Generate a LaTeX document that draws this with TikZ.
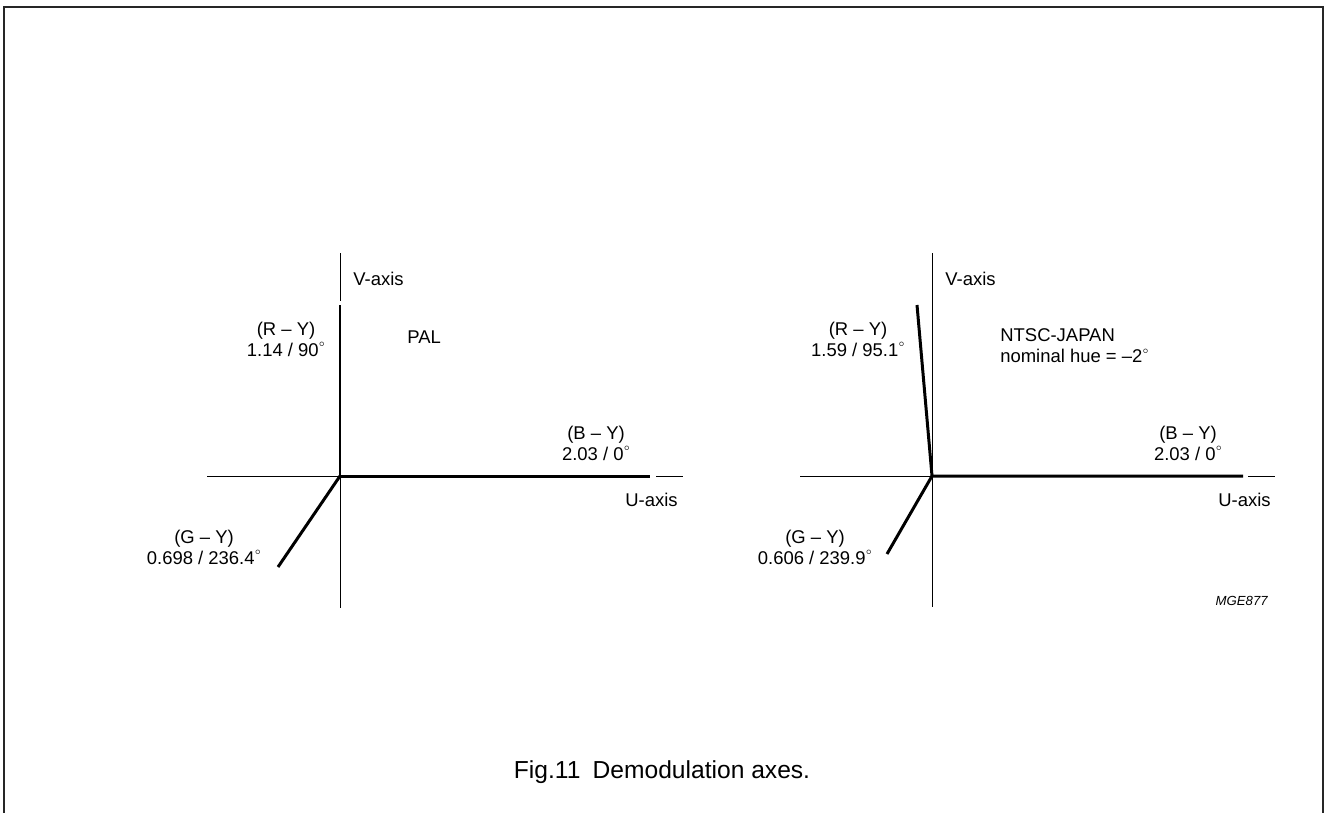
\documentclass[tikz,border=0pt]{standalone}
\usepackage{fontspec}
\setmainfont{Liberation Sans}
\usepackage{tikz}
\usetikzlibrary{positioning, calc}

\newcommand{\dg}{\raisebox{0.95ex}{$\scriptscriptstyle\circ$}}

\begin{document}
\begin{tikzpicture}[x=0.02cm, y=-0.02cm]
		\tikzstyle{thinax}=[draw=black, line width=0.55pt]
		\tikzstyle{vecline}=[draw=black, line width=1.7pt]
		\tikzstyle{lbl}=[inner sep=0pt, align=center, font=\fontsize{10.5}{12}\selectfont, text=black]
		\tikzstyle{framel}=[draw=black!85, line width=1.1pt]
		
		\useasboundingbox (0,0) rectangle (1324,812);
		\draw [framel] (4,813) -- (4,7) -- (1323,7) -- (1323,813);
		
		%% PAL
		\coordinate (O1) at (340,476);
		\coordinate (V1a) at (340,253);
		\coordinate (V1b) at (340,301);
		\coordinate (V1c) at (340,608);
		\coordinate (U1a) at (207,476);
		\coordinate (U1b) at (656,476);
		\coordinate (U1c) at (683,476);
		\coordinate (RY1) at (340,305);
		\coordinate (BY1) at (650,476);
		\coordinate (GY1) at (278,567);
		\draw [thinax] (V1a) -- (V1b);
		\draw [thinax] (O1) -- (V1c);
		\draw [thinax] (U1a) -- (O1);
		\draw [thinax] (U1b) -- (U1c);
		\draw [vecline] (RY1) -- (O1) -- (BY1);
		\draw [vecline] (O1) -- (GY1);
		
		\node [lbl, anchor=west] (V1) at (353,279) {V-axis};
		\node [lbl, anchor=east] (U1) at (678,500) {U-axis};
		\node [lbl] (RY1l) at (286,339) {(R -- Y)\\1.14 / 90\dg};
		\node [lbl] (BY1l) at (596,443) {(B -- Y)\\2.03 / 0\dg};
		\node [lbl] (GY1l) at (204,547) {(G -- Y)\\0.698 / 236.4\dg};
		\node [lbl, anchor=west] (PAL) at (407,337) {PAL};
		
		%% NTSC-JAPAN
		\coordinate (O2) at (932,476);
		\coordinate (V2a) at (932,253);
		\coordinate (V2c) at (932,607);
		\coordinate (U2a) at (800,476);
		\coordinate (U2b) at (1248,476);
		\coordinate (U2c) at (1275,476);
		\coordinate (RY2) at (917,305);
		\coordinate (BY2) at (1243,476);
		\coordinate (GY2) at (887,554);
		\draw [thinax] (V2a) -- (V2c);
		\draw [thinax] (U2a) -- (O2);
		\draw [thinax] (U2b) -- (U2c);
		\draw [vecline] (RY2) -- (O2) -- (BY2);
		\draw [vecline] (O2) -- (GY2);
		
		\node [lbl, anchor=west] (V2) at (945,279) {V-axis};
		\node [lbl, anchor=east] (U2) at (1271,500) {U-axis};
		\node [lbl] (RY2l) at (858,339) {(R -- Y)\\1.59 / 95.1\dg};
		\node [lbl] (BY2l) at (1188,443) {(B -- Y)\\2.03 / 0\dg};
		\node [lbl] (GY2l) at (815,547) {(G -- Y)\\0.606 / 239.9\dg};
		\node [lbl, anchor=west, align=left] (NTSC) at (1000,346) {NTSC-JAPAN\\nominal hue = --2\dg};
		
		\node [lbl, anchor=east, font=\fontsize{7.5}{9}\selectfont\itshape] (code) at (1268,601) {MGE877};
		\node [lbl, font=\fontsize{14}{16}\selectfont] (cap) at (662,772) {Fig.11\hspace{0.5em}Demodulation axes.};
\end{tikzpicture}
\end{document}
